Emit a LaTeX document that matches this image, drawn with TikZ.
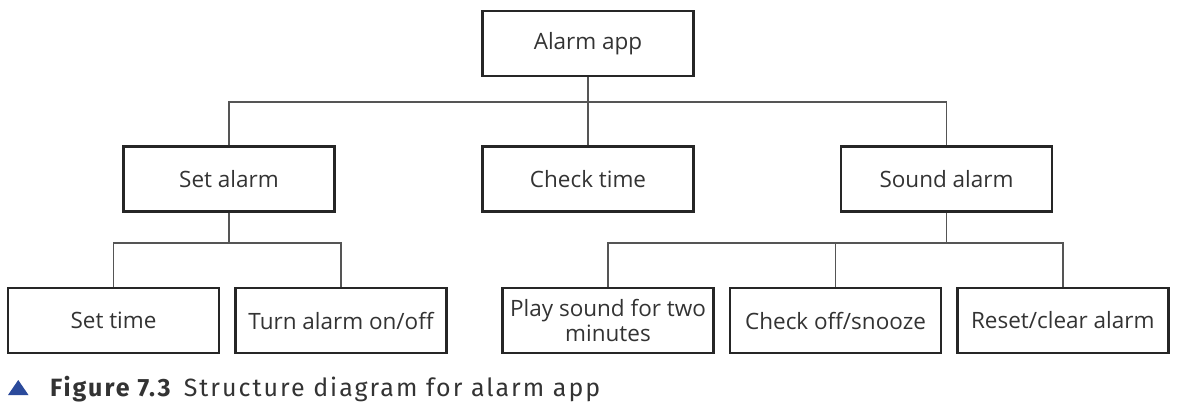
\documentclass[tikz,border=0pt]{standalone}
\usepackage{fontspec}
\setmainfont{Open Sans}
\newfontfamily\capfont[LetterSpace=8]{Fira Sans}
\definecolor{txt}{HTML}{333333}
\definecolor{ln}{HTML}{555555}
\definecolor{tri}{HTML}{2B4A9B}
\begin{document}
\begin{tikzpicture}[x=1pt,y=-1pt,
  box/.style={draw=black!85,line width=2.4pt,minimum width=211pt,minimum height=65pt,inner sep=0pt,
    font=\fontsize{22.5}{25}\selectfont,text=txt,align=center},
  conn/.style={draw=ln,line width=1.4pt}]
\useasboundingbox (0,0) rectangle (1180,420);
\node[box] (app) at (588,43.5) {Alarm app};
\node[box] (set) at (229,179) {Set alarm};
\node[box] (chk) at (588,179) {Check time};
\node[box] (snd) at (946.5,179) {Sound alarm};
\node[box] (st) at (113.5,320.5) {Set time};
\node[box] (turn) at (341,320.5) {Turn alarm on/off};
\node[box] (play) at (608,320.5) {Play sound for two\\minutes};
\node[box] (off) at (835.5,320.5) {Check off/snooze};
\node[box] (rst) at (1062.8,320.5) {Reset/clear alarm};
\coordinate (b1) at (588,102);
\coordinate (b2) at (229,243);
\coordinate (b3) at (946.5,243);
\draw[conn] (app.south) -- (b1);
\draw[conn] (set.north) |- (b1) -| (snd.north);
\draw[conn] (chk.north) -- (b1);
\draw[conn] (set.south) -- (b2);
\draw[conn] (st.north) |- (b2) -| (turn.north);
\draw[conn] (snd.south) -- (b3);
\draw[conn] (play.north) |- (b3) -| (rst.north);
\draw[conn] (off.north) -- (off.north |- b3);
\fill[tri] (8,395) -- (28.5,395) -- (18.25,380) -- cycle;
\node[anchor=base west,inner sep=0pt,text=txt,font=\capfont\fontsize{25}{28}\selectfont] (cap) at (50,396)
  {\textbf{Figure 7.3}\hspace{0.45em}Structure diagram for alarm app};
\end{tikzpicture}
\end{document}
